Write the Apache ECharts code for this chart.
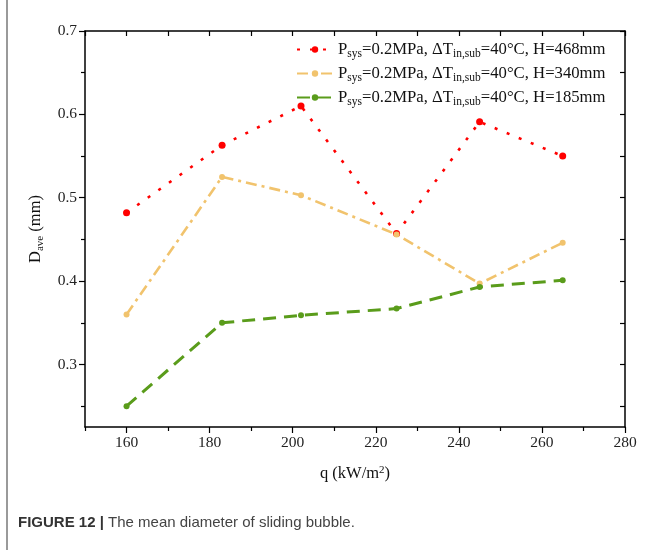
<!DOCTYPE html>
<html>
<head>
<meta charset="utf-8">
<script src="https://cdn.jsdelivr.net/npm/echarts@6/dist/echarts.min.js"></script>
<style>
  html, body { margin: 0; padding: 0; background: #fff; }
  #chart { width: 655px; height: 550px; }
</style>
</head>
<body>
<div id="chart"></div>
<script>
// heat flux q (kW/m2)
var qValues = [160, 183, 202, 225, 245, 265];
// mean diameter D_ave (mm)
var dH468 = [0.482, 0.563, 0.610, 0.457, 0.591, 0.550];
var dH340 = [0.360, 0.525, 0.503, 0.456, 0.397, 0.446];
var dH185 = [0.250, 0.350, 0.359, 0.367, 0.393, 0.401];

var seriesNames = ['H=468mm', 'H=340mm', 'H=185mm'];

var xMajor = [160, 180, 200, 220, 240, 260, 280];
var xMinor = [150, 170, 190, 210, 230, 250, 270];
var yMajor = [0.3, 0.4, 0.5, 0.6, 0.7];
var yMinor = [0.25, 0.35, 0.45, 0.55, 0.65];

var serif = 'Liberation Serif';

function pairs(ys) {
	var arr = [];
	for (var i = 0; i < qValues.length; i++) {
		arr.push([qValues[i], ys[i]]);
	}
	return arr;
}

var chart = echarts.init(document.getElementById('chart'));

var axisLine = { show: true, lineStyle: { color: '#000', width: 1.5 } };
var xRange = { min: 150, max: 280 };
var yRange = { min: 0.225, max: 0.7 };

chart.setOption({
	animation: false,
	backgroundColor: '#fff',
	grid: { left: 85, right: 30, top: 31, bottom: 123 },
	legend: {
		orient: 'vertical',
		left: 291,
		top: 34,
		itemWidth: 36,
		itemHeight: 8,
		itemGap: 3,
		data: seriesNames,
		formatter: function(name) {
			return '{n|P}{s|sys}{n|=0.2MPa, ΔT}{s|in,sub}{n|=40°C, ' + name + '}';
		},
		textStyle: {
			fontFamily: serif,
			color: '#111',
			rich: {
				n: { fontFamily: serif, fontSize: 16.7, color: '#111', lineHeight: 19 },
				s: { fontFamily: serif, fontSize: 11.5, color: '#111', lineHeight: 19, padding: [9, 0, 0, 0] }
			}
		}
	},
	xAxis: [
		{
			type: 'value', position: 'bottom', min: xRange.min, max: xRange.max,
			axisLine: axisLine,
			splitLine: { show: false },
			axisTick: { show: true, inside: false, length: 6, customValues: xMajor, lineStyle: { color: '#000', width: 1.2 } },
			axisLabel: {
				customValues: xMajor, margin: 8,
				fontFamily: serif, fontSize: 15.5, color: '#222'
			},
			name: '{n|q (kW/m}{p|2}{n|)}',
			nameLocation: 'middle',
			nameGap: 38,
			nameTextStyle: {
				rich: {
					n: { fontFamily: serif, fontSize: 16.5, color: '#111', lineHeight: 18 },
					p: { fontFamily: serif, fontSize: 11, color: '#111', lineHeight: 18, padding: [0, 0, 8, 0] }
				}
			}
		},
		{
			type: 'value', position: 'bottom', min: xRange.min, max: xRange.max,
			axisLine: { show: false },
			splitLine: { show: false },
			axisTick: { show: true, inside: false, length: 4, customValues: xMinor, lineStyle: { color: '#000', width: 1.2 } },
			axisLabel: { show: false }
		},
		{
			type: 'value', position: 'top', min: xRange.min, max: xRange.max,
			axisLine: axisLine,
			splitLine: { show: false },
			axisTick: { show: true, inside: true, length: 5, customValues: xMajor.concat(xMinor), lineStyle: { color: '#000', width: 1.2 } },
			axisLabel: { show: false }
		}
	],
	yAxis: [
		{
			type: 'value', position: 'left', min: yRange.min, max: yRange.max,
			axisLine: axisLine,
			splitLine: { show: false },
			axisTick: { show: true, inside: false, length: 6, customValues: yMajor, lineStyle: { color: '#000', width: 1.2 } },
			axisLabel: {
				customValues: yMajor, margin: 8,
				fontFamily: serif, fontSize: 15.5, color: '#222',
				formatter: function(v) { return v.toFixed(1); }
			},
			name: '{n|D}{s|ave}{n| (mm)}',
			nameLocation: 'middle',
			nameRotate: 90,
			nameGap: 40,
			nameTextStyle: {
				rich: {
					n: { fontFamily: serif, fontSize: 16.5, color: '#111', lineHeight: 18 },
					s: { fontFamily: serif, fontSize: 11, color: '#111', lineHeight: 18, padding: [9, 0, 0, 0] }
				}
			}
		},
		{
			type: 'value', position: 'left', min: yRange.min, max: yRange.max,
			axisLine: { show: false },
			splitLine: { show: false },
			axisTick: { show: true, inside: false, length: 4, customValues: yMinor, lineStyle: { color: '#000', width: 1.2 } },
			axisLabel: { show: false }
		},
		{
			type: 'value', position: 'right', min: yRange.min, max: yRange.max,
			axisLine: axisLine,
			splitLine: { show: false },
			axisTick: { show: true, inside: true, length: 5, customValues: yMajor.concat(yMinor), lineStyle: { color: '#000', width: 1.2 } },
			axisLabel: { show: false }
		}
	],
	series: [
		{
			name: seriesNames[0], type: 'line', xAxisIndex: 0, yAxisIndex: 0,
			data: pairs(dH468),
			symbol: 'circle', symbolSize: 7,
			itemStyle: { color: '#ff0000' },
			lineStyle: { color: '#ff0000', width: 2.6, type: [3, 10] }
		},
		{
			name: seriesNames[1], type: 'line', xAxisIndex: 0, yAxisIndex: 0,
			data: pairs(dH340),
			symbol: 'circle', symbolSize: 6,
			itemStyle: { color: '#f1c36d' },
			lineStyle: { color: '#f1c36d', width: 2.6, type: [11, 5, 3, 5] }
		},
		{
			name: seriesNames[2], type: 'line', xAxisIndex: 0, yAxisIndex: 0,
			data: pairs(dH185),
			symbol: 'circle', symbolSize: 6,
			itemStyle: { color: '#5a9c1b' },
			lineStyle: { color: '#5a9c1b', width: 3, type: [13, 8] }
		}
	],
	graphic: [
		{
			type: 'line',
			shape: { x1: 7, y1: 0, x2: 7, y2: 550 },
			style: { stroke: '#9a9a9a', lineWidth: 2 }
		},
		{
			type: 'text',
			left: 18,
			top: 515,
			style: {
				text: '{b|FIGURE 12 | }{r|The mean diameter of sliding bubble.}',
				rich: {
					b: { fontFamily: 'Liberation Sans', fontSize: 15, fontWeight: 'bold', fill: '#333' },
					r: { fontFamily: 'Liberation Sans', fontSize: 15, fill: '#444' }
				}
			}
		}
	]
});
</script>
</body>
</html>
